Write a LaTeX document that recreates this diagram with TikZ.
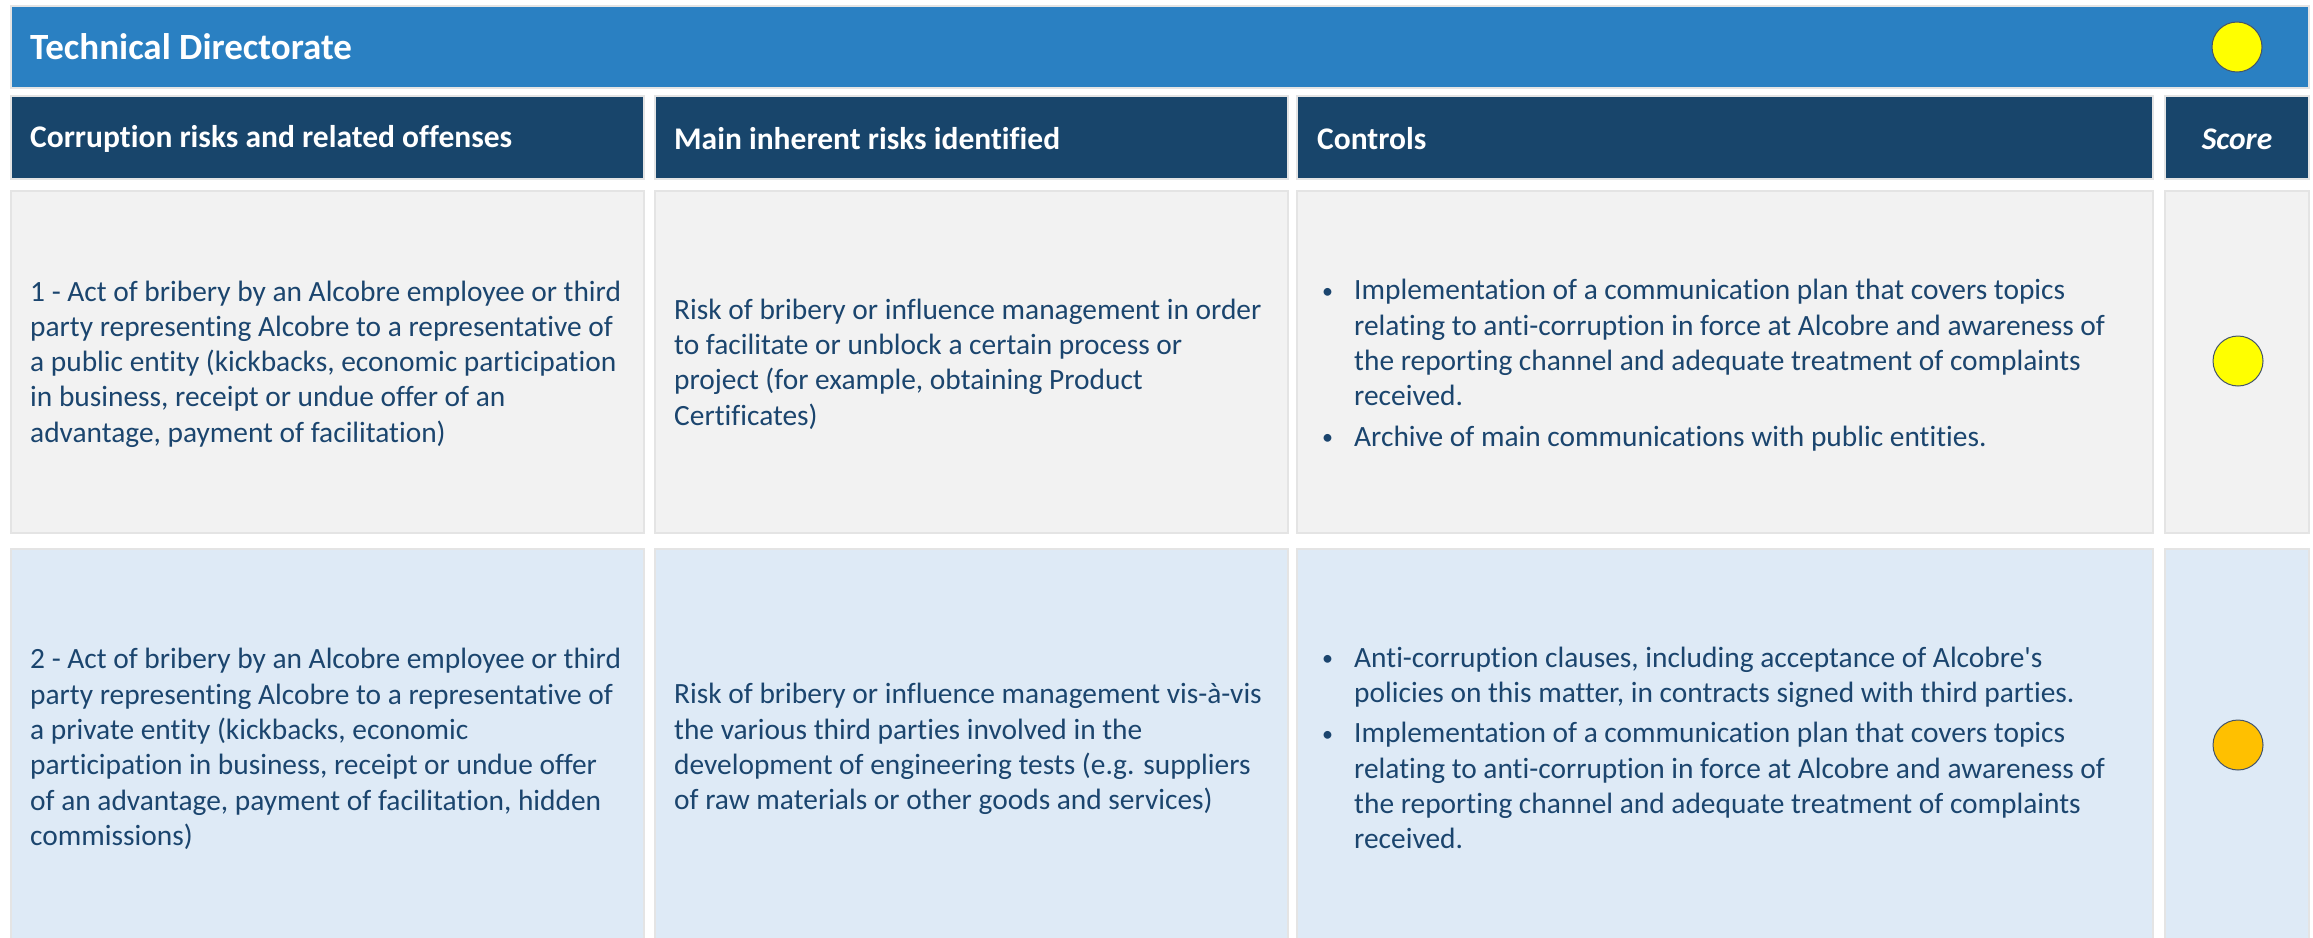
\documentclass[tikz,border=0pt]{standalone}
\usepackage{fontspec}
\setmainfont{Carlito}[Ligatures={TeX,CommonOff}]
\definecolor{titlebg}{HTML}{2A80C2}
\definecolor{headbg}{HTML}{18456B}
\definecolor{rowA}{HTML}{F2F2F2}
\definecolor{rowB}{HTML}{DEEAF6}
\definecolor{cellline}{HTML}{E4E4E4}
\definecolor{txt}{HTML}{1B456E}
\definecolor{dotline}{HTML}{44546A}
\definecolor{dotyellow}{HTML}{FFFF00}
\definecolor{dotorange}{HTML}{FFC000}
\tikzset{
 box/.style={rectangle, inner sep=0pt, outer sep=0pt, anchor=north west, draw=cellline, line width=2.5pt},
 titlebox/.style={box, fill=titlebg},
 headbox/.style={box, fill=headbg},
 cellA/.style={box, fill=rowA},
 cellB/.style={box, fill=rowB},
 titletxt/.style={text=white, font={\fontsize{37}{44}\selectfont\bfseries}, anchor=west, inner sep=0pt},
 headtxt/.style={text=white, font={\fontsize{31.5}{38}\selectfont\bfseries}, anchor=west, inner sep=0pt},
 bodytxt/.style={text=txt, font={\fontsize{29.4}{35.3}\selectfont}, anchor=west, inner sep=0pt, align=left},
 dot/.style={circle, draw=dotline, line width=1pt, minimum size=50pt, inner sep=0pt},
}
\newcommand{\bul}{\makebox[36pt][l]{\hspace{4pt}\raisebox{1.5pt}{\fontsize{22}{22}\selectfont\textbullet}}}
\begin{document}
\begin{tikzpicture}[x=1pt,y=-1pt]
\clip (0,0) rectangle (2313,937);
\fill[white] (0,0) rectangle (2313,937);
% title bar
\node[titlebox, minimum width=2298pt, minimum height=82pt] (title) at (11,6) {};
\node[titletxt] (titlet) at (30,47) {Technical Directorate};
\node[dot, fill=dotyellow] (tdot) at (2237,47) {};
% header row
\node[headbox, minimum width=633pt, minimum height=83pt] (h1) at (11,96) {};
\node[headbox, minimum width=633pt, minimum height=83pt] (h2) at (655,96) {};
\node[headbox, minimum width=856pt, minimum height=83pt] (h3) at (1297,96) {};
\node[headbox, minimum width=144pt, minimum height=83pt] (h4) at (2165,96) {};
\node[headtxt] (h1t) at (30,139) {Corruption risks and related offenses};
\node[headtxt] (h2t) at (674,139) {Main inherent risks identified};
\node[headtxt] (h3t) at (1317,139) {Controls};
\node[headtxt, anchor=center, font={\fontsize{31.5}{38}\selectfont\bfseries\itshape}] (h4t) at (2237,139) {Score};
% row 1
\node[cellA, minimum width=633pt, minimum height=342pt] (r1c1) at (11,191) {};
\node[cellA, minimum width=633pt, minimum height=342pt] (r1c2) at (655,191) {};
\node[cellA, minimum width=856pt, minimum height=342pt] (r1c3) at (1297,191) {};
\node[cellA, minimum width=144pt, minimum height=342pt] (r1c4) at (2165,191) {};
\node[bodytxt] (r1t1) at (30,364) {1 - Act of bribery by an Alcobre employee or third\\party representing Alcobre to a representative of\\a public entity (kickbacks, economic participation\\in business, receipt or undue offer of an\\advantage, payment of facilitation)};
\node[bodytxt] (r1t2) at (674,364) {Risk of bribery or influence management in order\\to facilitate or unblock a certain process or\\project (for example, obtaining Product\\Certificates)};
\node[bodytxt] (r1t3) at (1318,366) {\begin{tabular}{@{}l@{}l@{}}
\bul & Implementation of a communication plan that covers topics\\
 & relating to anti-corruption in force at Alcobre and awareness of\\
 & the reporting channel and adequate treatment of complaints\\
 & received.\\[5pt]
\bul & Archive of main communications with public entities.
\end{tabular}};
\node[dot, fill=dotyellow] (r1dot) at (2238,361) {};
% row 2
\node[cellB, minimum width=633pt, minimum height=400pt] (r2c1) at (11,549) {};
\node[cellB, minimum width=633pt, minimum height=400pt] (r2c2) at (655,549) {};
\node[cellB, minimum width=856pt, minimum height=400pt] (r2c3) at (1297,549) {};
\node[cellB, minimum width=144pt, minimum height=400pt] (r2c4) at (2165,549) {};
\node[bodytxt] (r2t1) at (30,749) {2 - Act of bribery by an Alcobre employee or third\\party representing Alcobre to a representative of\\a private entity (kickbacks, economic\\participation in business, receipt or undue offer\\of an advantage, payment of facilitation, hidden\\commissions)};
\node[bodytxt] (r2t2) at (674,749) {Risk of bribery or influence management vis-à-vis\\the various third parties involved in the\\development of engineering tests (e.g. suppliers\\of raw materials or other goods and services)};
\node[bodytxt] (r2t3) at (1318,751) {\begin{tabular}{@{}l@{}l@{}}
\bul & Anti-corruption clauses, including acceptance of Alcobre\textquotesingle s\\
 & policies on this matter, in contracts signed with third parties.\\[5pt]
\bul & Implementation of a communication plan that covers topics\\
 & relating to anti-corruption in force at Alcobre and awareness of\\
 & the reporting channel and adequate treatment of complaints\\
 & received.
\end{tabular}};
\node[dot, fill=dotorange] (r2dot) at (2238,745) {};
\end{tikzpicture}
\end{document}
